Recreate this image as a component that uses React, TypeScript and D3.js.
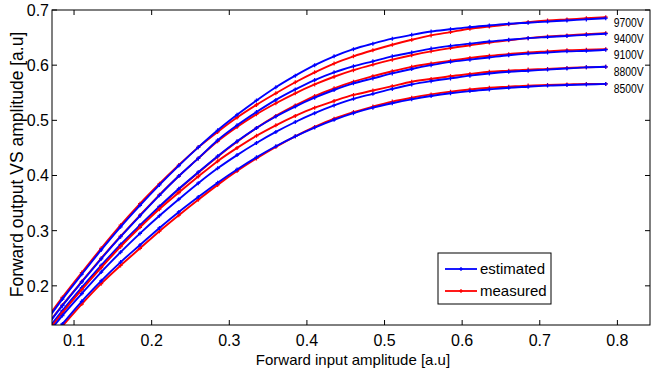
import * as d3 from "d3";

const xs = [0.06, 0.085, 0.11, 0.135, 0.16, 0.185, 0.21, 0.235, 0.26, 0.285, 0.31, 0.335, 0.36, 0.385, 0.41, 0.435, 0.46, 0.485, 0.51, 0.535, 0.56, 0.585, 0.61, 0.635, 0.66, 0.685, 0.71, 0.735, 0.76, 0.785];

const voltages = ["9700V", "9400V", "9100V", "8800V", "8500V"];

const est9700 = [0.128, 0.176, 0.221, 0.265, 0.307, 0.346, 0.383, 0.418, 0.451, 0.482, 0.51, 0.536, 0.56, 0.581, 0.6, 0.616, 0.629, 0.639, 0.648, 0.655, 0.661, 0.665, 0.669, 0.672, 0.675, 0.677, 0.679, 0.681, 0.683, 0.685];
const meas9700 = [0.131, 0.179, 0.224, 0.268, 0.31, 0.349, 0.385, 0.419, 0.451, 0.479, 0.505, 0.528, 0.549, 0.569, 0.587, 0.603, 0.616, 0.627, 0.637, 0.646, 0.654, 0.66, 0.666, 0.67, 0.674, 0.678, 0.681, 0.683, 0.685, 0.687];
const est9400 = [0.118, 0.164, 0.207, 0.249, 0.289, 0.327, 0.364, 0.399, 0.431, 0.464, 0.491, 0.515, 0.537, 0.556, 0.573, 0.587, 0.598, 0.607, 0.616, 0.623, 0.63, 0.635, 0.639, 0.643, 0.646, 0.649, 0.651, 0.653, 0.655, 0.657];
const meas9400 = [0.119, 0.165, 0.208, 0.25, 0.29, 0.328, 0.365, 0.399, 0.431, 0.462, 0.488, 0.511, 0.531, 0.549, 0.565, 0.579, 0.591, 0.601, 0.61, 0.618, 0.625, 0.631, 0.636, 0.641, 0.645, 0.649, 0.652, 0.654, 0.656, 0.658];
const est9100 = [0.11, 0.155, 0.197, 0.237, 0.275, 0.31, 0.344, 0.376, 0.406, 0.435, 0.462, 0.486, 0.507, 0.525, 0.541, 0.555, 0.567, 0.576, 0.585, 0.593, 0.6, 0.606, 0.61, 0.614, 0.618, 0.621, 0.623, 0.625, 0.626, 0.628];
const meas9100 = [0.108, 0.153, 0.195, 0.235, 0.273, 0.309, 0.343, 0.375, 0.405, 0.434, 0.461, 0.486, 0.508, 0.527, 0.544, 0.558, 0.57, 0.58, 0.589, 0.597, 0.603, 0.608, 0.613, 0.617, 0.62, 0.623, 0.625, 0.627, 0.628, 0.629];
const est8800 = [0.102, 0.146, 0.186, 0.225, 0.261, 0.295, 0.327, 0.357, 0.386, 0.413, 0.437, 0.459, 0.479, 0.497, 0.513, 0.527, 0.539, 0.548, 0.557, 0.565, 0.571, 0.576, 0.581, 0.585, 0.588, 0.59, 0.592, 0.594, 0.596, 0.597];
const meas8800 = [0.106, 0.151, 0.193, 0.233, 0.271, 0.306, 0.339, 0.369, 0.398, 0.426, 0.45, 0.472, 0.491, 0.508, 0.523, 0.535, 0.546, 0.554, 0.562, 0.57, 0.575, 0.58, 0.584, 0.588, 0.59, 0.592, 0.593, 0.595, 0.596, 0.597];
const est8500 = [0.09, 0.131, 0.172, 0.209, 0.243, 0.274, 0.305, 0.334, 0.361, 0.387, 0.411, 0.433, 0.453, 0.471, 0.487, 0.501, 0.513, 0.523, 0.531, 0.538, 0.544, 0.549, 0.553, 0.556, 0.559, 0.561, 0.563, 0.564, 0.565, 0.566];
const meas8500 = [0.086, 0.127, 0.167, 0.204, 0.237, 0.268, 0.299, 0.328, 0.356, 0.383, 0.408, 0.431, 0.452, 0.471, 0.488, 0.503, 0.515, 0.525, 0.534, 0.541, 0.547, 0.552, 0.556, 0.559, 0.561, 0.563, 0.564, 0.565, 0.566, 0.566];

const estimated = [est9700, est9400, est9100, est8800, est8500];
const measured = [meas9700, meas9400, meas9100, meas8800, meas8500];

const xTicks = [0.1, 0.2, 0.3, 0.4, 0.5, 0.6, 0.7, 0.8];
const yTicks = [0.2, 0.3, 0.4, 0.5, 0.6, 0.7];

const W = 652;
const H = 371;
const left = 52;
const right = 650;
const top = 10;
const bottom = 325;
const font = "'Liberation Sans', Arial, sans-serif";
const BLUE = "#0000ff";
const RED = "#ff0000";

export default function App() {
  const x = d3.scaleLinear().domain([0.0716, 0.842]).range([left, right]);
  const y = d3.scaleLinear().domain([0.129, 0.7]).range([bottom, top]);

  const line = d3
    .line<number>()
    .x((d, i) => x(xs[i]))
    .y(d => y(d))
    .curve(d3.curveMonotoneX);

  const marker = (cx: number, cy: number, color: string, key: string) => (
    <path key={key} d={`M${cx - 2},${cy}H${cx + 2}M${cx},${cy - 2}V${cy + 2}`} stroke={color} strokeWidth={1.2} />
  );

  const series = (vals: number[], color: string, key: string) => (
    <g key={key}>
      <path d={line(vals) || ""} fill="none" stroke={color} strokeWidth={1.9} />
      {vals.map((v, i) => marker(x(xs[i]), y(v), color, key + i))}
    </g>
  );

  const tick = 5;

  return (
    <svg width={W} height={H} style={{ position: "absolute", left: 0, top: 0, background: "#fff" }}>
      <defs>
        <clipPath id="plot">
          <rect x={left} y={top} width={right - left} height={bottom - top} />
        </clipPath>
      </defs>

      <g clipPath="url(#plot)">
        {voltages.map((v, k) => (
          <g key={v}>
            {series(measured[k], RED, "m" + v)}
            {series(estimated[k], BLUE, "e" + v)}
          </g>
        ))}
      </g>

      {/* axes box */}
      <rect x={left} y={top} width={right - left} height={bottom - top} fill="none" stroke="#000" strokeWidth={1} />

      {xTicks.map(t => (
        <g key={"x" + t}>
          <line x1={x(t)} x2={x(t)} y1={bottom} y2={bottom - tick} stroke="#000" />
          <line x1={x(t)} x2={x(t)} y1={top} y2={top + tick} stroke="#000" />
          <text x={x(t)} y={bottom + 21} textAnchor="middle" fontFamily={font} fontSize={16}>
            {t.toFixed(1)}
          </text>
        </g>
      ))}

      {yTicks.map(t => (
        <g key={"y" + t}>
          <line x1={left} x2={left + tick} y1={y(t)} y2={y(t)} stroke="#000" />
          <line x1={right} x2={right - tick} y1={y(t)} y2={y(t)} stroke="#000" />
          <text x={left - 3} y={y(t) + 6} textAnchor="end" fontFamily={font} fontSize={16}>
            {t.toFixed(1)}
          </text>
        </g>
      ))}

      {/* voltage labels */}
      {voltages.map((v, k) => (
        <text
          key={"l" + v}
          x={x(0.785) + 8}
          y={y(estimated[k][xs.length - 1]) + 9}
          fontFamily={font}
          fontSize={12}
          textLength={30}
          lengthAdjust="spacingAndGlyphs"
        >
          {v}
        </text>
      ))}

      <text x={(left + right) / 2 + 2} y={365} textAnchor="middle" fontFamily={font} fontSize={15}>
        Forward input amplitude [a.u]
      </text>
      <text
        transform={`translate(23, ${(top + bottom) / 2 - 3}) rotate(-90)`}
        textAnchor="middle"
        fontFamily={font}
        fontSize={17.5}
      >
        Forward output VS amplitude [a.u]
      </text>

      {/* legend */}
      <g>
        <rect x={438} y={253} width={113} height={51} fill="#fff" stroke="#000" />
        <line x1={445} x2={477} y1={269} y2={269} stroke={BLUE} strokeWidth={1.8} />
        {marker(461, 269, BLUE, "lg1")}
        <text x={480} y={274} fontFamily={font} fontSize={15}>estimated</text>
        <line x1={445} x2={477} y1={291} y2={291} stroke={RED} strokeWidth={1.8} />
        {marker(461, 291, RED, "lg2")}
        <text x={480} y={296} fontFamily={font} fontSize={15}>measured</text>
      </g>
    </svg>
  );
}
